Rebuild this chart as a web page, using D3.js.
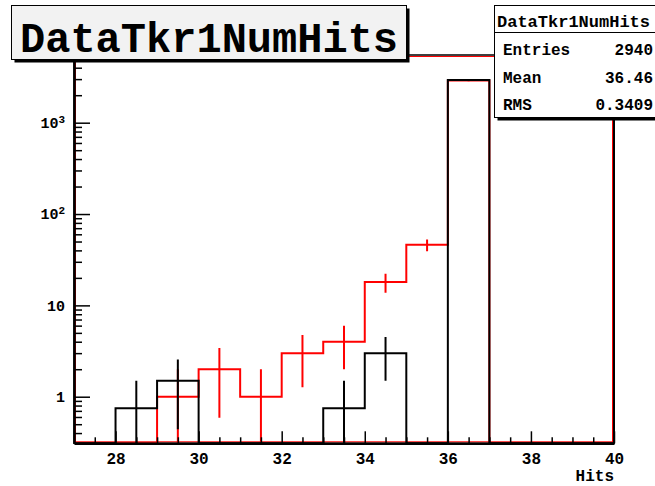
<!DOCTYPE html>
<html>
<head>
<meta charset="utf-8">
<script src="https://cdn.jsdelivr.net/npm/d3@7"></script>
<style>
  body { margin: 0; background: #fff; }
  svg { display: block; }
  text { font-family: "Liberation Mono", "DejaVu Sans Mono", monospace; font-weight: bold; fill: #000; }
</style>
</head>
<body>
<svg id="chart" width="655" height="486"></svg>
<script>
// Histogram bins: lower edges, unit width
const binLow = [27, 28, 29, 30, 31, 32, 33, 34, 35, 36, 37, 38, 39];
const binWidth = 1;

// Black histogram (scaled counts) and its errors
const blackCounts = [0, 0.75, 1.5, 0, 0, 0, 0.75, 3, 0, 2934, 0, 0, 0];
const blackErrors = [0, 0.75, 1.06, 0, 0, 0, 0.75, 1.5, 0, 40.6, 0, 0, 0];

// Red histogram and its errors
const redCounts = [0, 0, 1, 2, 1, 3, 4, 18, 46, 2900, 0, 0, 0];
const redErrors = [0, 0, 1, 1.41, 1, 1.73, 2, 4.24, 6.78, 53.9, 0, 0, 0];

// Axis ticks and labels
const xTicksMajor = [28, 30, 32, 34, 36, 38, 40];
const yTicksMajor = [1, 10, 100, 1000];
const yTickBase = ["1", "10", "10", "10"];
const yTickExp = ["", "", "2", "3"];
const xTitle = "Hits";

// Title and statistics box
const histTitle = "DataTkr1NumHits";
const statNames = ["Entries", "Mean", "RMS"];
const statValues = ["2940", "36.46", "0.3409"];

const xDomain = [27, 40];
const yDomain = [0.309, 5510];

const frame = { left: 74, right: 614, top: 55, bottom: 443.3 };

const svg = d3.select("#chart");

const x = d3.scaleLinear().domain(xDomain).range([frame.left, frame.right]);
const y = d3.scaleLog().domain(yDomain).range([frame.bottom, frame.top]);
const yc = v => y(Math.max(v, yDomain[0]));

svg.append("defs").append("clipPath").attr("id", "frameClip")
  .append("rect")
  .attr("x", frame.left).attr("y", frame.top)
  .attr("width", frame.right - frame.left).attr("height", frame.bottom - frame.top);

// Frame: outer black border with an inner red border
svg.append("rect")
  .attr("x", frame.left).attr("y", frame.top)
  .attr("width", frame.right - frame.left).attr("height", frame.bottom - frame.top)
  .attr("fill", "#fff").attr("stroke", "#000").attr("stroke-width", 1.5);
svg.append("rect")
  .attr("x", frame.left + 1.5).attr("y", frame.top + 1.5)
  .attr("width", frame.right - frame.left - 3).attr("height", frame.bottom - frame.top - 3)
  .attr("fill", "none").attr("stroke", "#f00").attr("stroke-width", 1);

const plot = svg.append("g").attr("clip-path", "url(#frameClip)");

function stepPoints(counts) {
  const pts = [[binLow[0], 0]];
  counts.forEach((c, i) => {
    pts.push([binLow[i], c]);
    pts.push([binLow[i] + binWidth, c]);
  });
  pts.push([binLow[binLow.length - 1] + binWidth, 0]);
  return pts;
}

const stepLine = d3.line().x(d => x(d[0])).y(d => yc(d[1]));

function drawHist(counts, errors, color) {
  plot.append("path")
    .attr("d", stepLine(stepPoints(counts)))
    .attr("fill", "none").attr("stroke", color).attr("stroke-width", 2)
    .attr("stroke-linejoin", "miter");
  plot.selectAll(null)
    .data(counts.map((c, i) => ({ c, e: errors[i], xc: binLow[i] + binWidth / 2 })).filter(d => d.c > 0))
    .enter().append("line")
    .attr("x1", d => x(d.xc)).attr("x2", d => x(d.xc))
    .attr("y1", d => yc(d.c - d.e)).attr("y2", d => yc(d.c + d.e))
    .attr("stroke", color).attr("stroke-width", 2);
}

drawHist(redCounts, redErrors, "#f00");
drawHist(blackCounts, blackErrors, "#000");

// Axes (ticks point into the frame)
const xMinor = d3.range(27.5, 40.01, 0.5).filter(v => !xTicksMajor.includes(v));
const yMinor = [];
[0.1, 1, 10, 100, 1000].forEach(dec => {
  for (let m = 2; m <= 9; m++) {
    const v = dec * m;
    if (v >= yDomain[0] && v <= yDomain[1]) yMinor.push(v);
  }
});

const gx = svg.append("g").attr("transform", `translate(0,${frame.bottom})`);
gx.call(d3.axisBottom(x).tickValues(xTicksMajor).tickSizeInner(-12).tickSizeOuter(0)
  .tickPadding(9).tickFormat(d3.format("d")));
gx.append("g").call(d3.axisBottom(x).tickValues(xMinor).tickSizeInner(-6).tickSizeOuter(0).tickFormat(""))
  .select(".domain").remove();
gx.selectAll("line").attr("stroke", "#000").attr("stroke-width", 1.5);
gx.select(".domain").attr("stroke", "#000").attr("stroke-width", 2.5);
gx.selectAll("text").style("font-size", "16px").attr("fill", "#000");

const gy = svg.append("g").attr("transform", `translate(${frame.left},0)`);
gy.call(d3.axisLeft(y).tickValues(yTicksMajor).tickSizeInner(-16).tickSizeOuter(0)
  .tickPadding(9).tickFormat(() => ""));
gy.append("g").call(d3.axisLeft(y).tickValues(yMinor).tickSizeInner(-8).tickSizeOuter(0).tickFormat(""))
  .select(".domain").remove();
gy.selectAll("line").attr("stroke", "#000").attr("stroke-width", 1.5);
gy.select(".domain").attr("stroke", "#000").attr("stroke-width", 2.5);
gy.selectAll(".tick text").each(function(d) {
  const i = yTicksMajor.indexOf(d);
  if (i < 0) return;
  const t = d3.select(this).style("font-size", "15px").attr("fill", "#000");
  t.append("tspan").text(yTickBase[i]);
  if (yTickExp[i]) {
    t.append("tspan").attr("dy", "-0.45em").style("font-size", "11px").text(yTickExp[i]);
  }
});

// Right edge of the frame
svg.append("line")
  .attr("x1", frame.right).attr("x2", frame.right)
  .attr("y1", frame.top).attr("y2", frame.bottom)
  .attr("stroke", "#000").attr("stroke-width", 2);

svg.append("text")
  .attr("x", frame.right).attr("y", 481)
  .attr("text-anchor", "end").style("font-size", "16px")
  .text(xTitle);

// Title box with drop shadow
const tb = { x: 11.5, y: 5.5, w: 395, h: 54 };
svg.append("rect").attr("x", tb.x + 3).attr("y", tb.y + 3).attr("width", tb.w).attr("height", tb.h).attr("fill", "#000");
svg.append("rect").attr("x", tb.x).attr("y", tb.y).attr("width", tb.w).attr("height", tb.h)
  .attr("fill", "#f2f2f2").attr("stroke", "#000").attr("stroke-width", 1);
svg.append("text").attr("x", 20).attr("y", 52).style("font-size", "42px").text(histTitle);

// Statistics box with drop shadow (extends past the right edge)
const sb = { x: 494.5, y: 5.5, w: 200, h: 112 };
svg.append("rect").attr("x", sb.x + 3).attr("y", sb.y + 3).attr("width", sb.w).attr("height", sb.h).attr("fill", "#000");
svg.append("rect").attr("x", sb.x).attr("y", sb.y).attr("width", sb.w).attr("height", sb.h)
  .attr("fill", "#fff").attr("stroke", "#000").attr("stroke-width", 1);
svg.append("line").attr("x1", sb.x).attr("x2", sb.x + sb.w).attr("y1", 32.5).attr("y2", 32.5)
  .attr("stroke", "#000").attr("stroke-width", 1);
svg.append("text").attr("x", 497).attr("y", 27).style("font-size", "17px").text(histTitle);
statNames.forEach((name, i) => {
  const yy = 55 + i * 27.5;
  svg.append("text").attr("x", 503).attr("y", yy).style("font-size", "16px").text(name);
  svg.append("text").attr("x", 653).attr("y", yy).attr("text-anchor", "end").style("font-size", "16px").text(statValues[i]);
});
</script>
</body>
</html>
